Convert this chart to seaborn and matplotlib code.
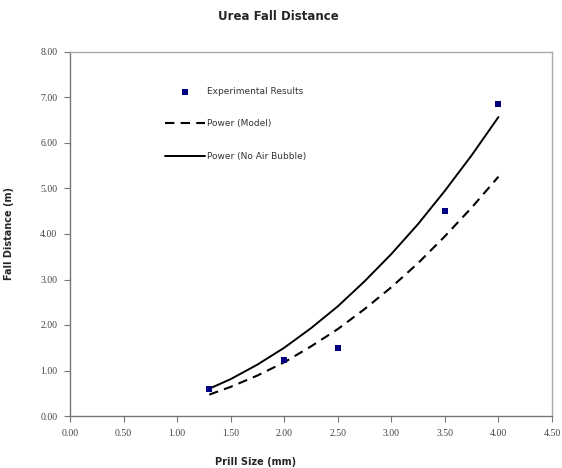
import numpy as np
import pandas as pd
import matplotlib
matplotlib.use("Agg")
import matplotlib.pyplot as plt
import seaborn as sns

# -----------------------------
# Data
# -----------------------------
prill_size = [1.3, 2.0, 2.5, 3.5, 4.0]
fall_distance = [0.59, 1.24, 1.49, 4.50, 6.86]

curve_x = [1.3, 1.5, 1.75, 2.0, 2.25, 2.5, 2.75, 3.0, 3.25, 3.5, 3.75, 4.0]
model_y = [0.47, 0.64, 0.89, 1.18, 1.53, 1.91, 2.35, 2.83, 3.36, 3.95, 4.58, 5.26]
no_bubble_y = [0.60, 0.81, 1.13, 1.50, 1.93, 2.41, 2.96, 3.56, 4.22, 4.95, 5.73, 6.57]

x_ticks = [0.0, 0.5, 1.0, 1.5, 2.0, 2.5, 3.0, 3.5, 4.0, 4.5]
y_ticks = [0, 1, 2, 3, 4, 5, 6, 7, 8]

points = pd.DataFrame({"size": prill_size, "dist": fall_distance})
curves = pd.DataFrame({"size": curve_x, "model": model_y, "nobubble": no_bubble_y})

# -----------------------------
# Figure
# -----------------------------
sns.set_style("white")
plt.rcParams["font.family"] = ["DejaVu Sans"]

fig = plt.figure(figsize=(5.62, 4.68), dpi=100)
ax = fig.add_axes([70 / 562, 1 - 416 / 468, 482 / 562, 364 / 468])

sns.scatterplot(data=points, x="size", y="dist", marker="s", s=22,
                color="#000080", edgecolor="#000080", linewidth=0,
                label="Experimental Results", ax=ax, zorder=3)
sns.lineplot(data=curves, x="size", y="model", color="black", lw=1.5,
             dashes=False, label="Power (Model)", ax=ax)
ax.lines[-1].set_dashes([4.5, 3])
sns.lineplot(data=curves, x="size", y="nobubble", color="black", lw=1.4,
             label="Power (No Air Bubble)", ax=ax)

ax.set_xlim(0, 4.5)
ax.set_ylim(0, 8)
ax.set_xticks(x_ticks)
ax.set_yticks(y_ticks)
ax.set_xticklabels([f"{v:.2f}" for v in x_ticks])
ax.set_yticklabels([f"{v:.2f}" for v in y_ticks])
ax.tick_params(axis="both", direction="out", length=4, width=0.8,
               color="#777777", labelsize=7, labelcolor="#444444", pad=5,
               left=True, bottom=True)
for lab in ax.get_xticklabels() + ax.get_yticklabels():
    lab.set_family("Liberation Serif")

for side in ["left", "bottom"]:
    ax.spines[side].set_color("#777777")
    ax.spines[side].set_linewidth(1.0)
for side in ["top", "right"]:
    ax.spines[side].set_color("#aaaaaa")
    ax.spines[side].set_linewidth(1.0)

ax.set_xlabel("Prill Size (mm)", fontsize=7, fontweight="bold")
ax.set_ylabel("Fall Distance (m)", fontsize=7, fontweight="bold")
ax.xaxis.set_label_coords(0.384, -0.112)
ax.yaxis.set_label_coords(-0.116, 0.5)

fig.text(0.495, 1 - 16 / 468, "Urea Fall Distance", ha="center", va="center",
         fontsize=8.5, fontweight="bold")

leg = ax.legend(loc="upper left", bbox_to_anchor=(165 / 562, 1 - 87 / 468),
                bbox_transform=fig.transFigure, frameon=False, fontsize=6.5,
                handlelength=4.4, handletextpad=0.3, labelspacing=2.6,
                borderpad=0, borderaxespad=0, markerscale=1.0)
for t in leg.get_texts():
    t.set_color("#333333")

fig.savefig("out.png", dpi=100)
